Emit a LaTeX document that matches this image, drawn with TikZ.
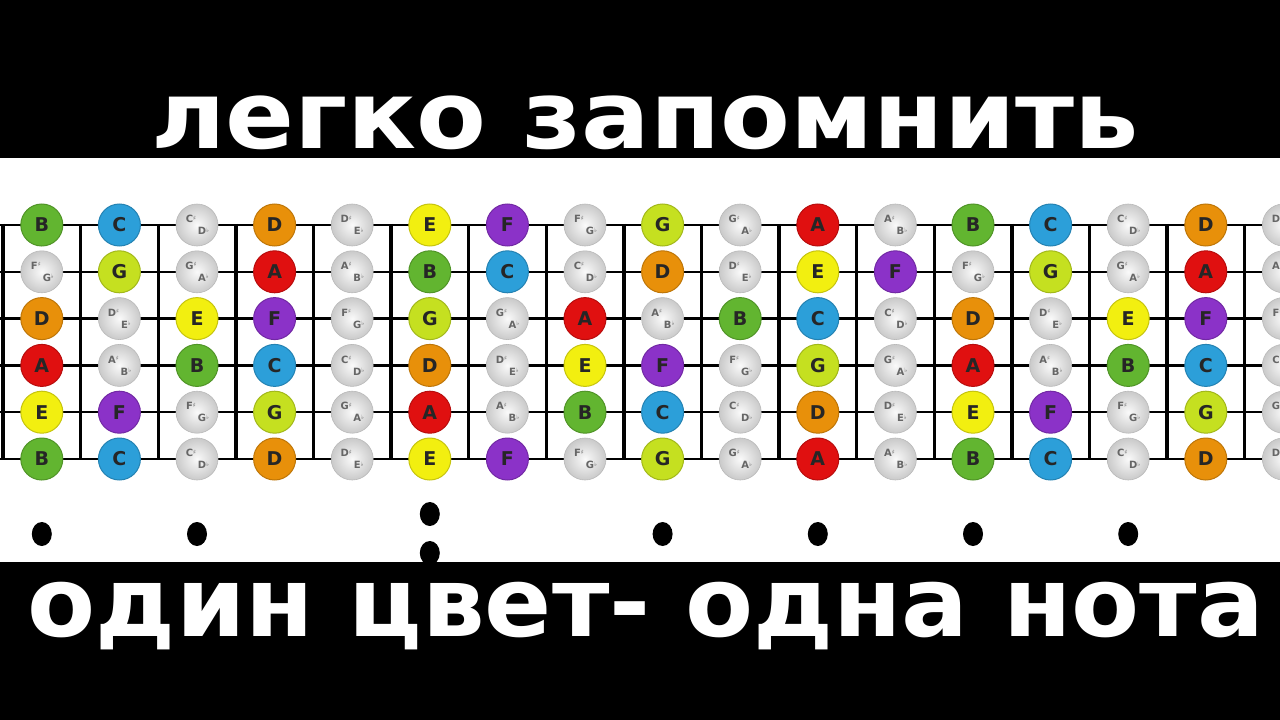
\documentclass[tikz,border=0pt]{standalone}
\usepackage{fontspec}
\newfontfamily\dejavu{DejaVu Sans}
\usetikzlibrary{shapes.geometric}
\definecolor{nB}{HTML}{62B530}
\definecolor{nC}{HTML}{2C9FD9}
\definecolor{nD}{HTML}{E8900A}
\definecolor{nE}{HTML}{F2EF10}
\definecolor{nF}{HTML}{8B32C8}
\definecolor{nG}{HTML}{C5E020}
\definecolor{nA}{HTML}{E01010}
\newcommand\natnote[5]{\node[notebox=#5] (#1) at (#2,#3) {#4};}
\newcommand\shpnote[5]{%
  \node[sharpbox] (#1) at (#2,#3) {};
  \node[sharptext] (#1-s) at ([xshift=-6pt,yshift=6pt]#1.center) {#4\raisebox{2.5pt}{\fontsize{6}{6}\selectfont ♯}};
  \node[sharptext] (#1-f) at ([xshift=6.5pt,yshift=-6pt]#1.center) {#5\raisebox{2.5pt}{\fontsize{6}{6}\selectfont ♭}};}
\newcommand\placenote[4]{%
  \ifcase#1
    \natnote{#2}{#3}{#4}{C}{nC}\or
    \shpnote{#2}{#3}{#4}{C}{D}\or
    \natnote{#2}{#3}{#4}{D}{nD}\or
    \shpnote{#2}{#3}{#4}{D}{E}\or
    \natnote{#2}{#3}{#4}{E}{nE}\or
    \natnote{#2}{#3}{#4}{F}{nF}\or
    \shpnote{#2}{#3}{#4}{F}{G}\or
    \natnote{#2}{#3}{#4}{G}{nG}\or
    \shpnote{#2}{#3}{#4}{G}{A}\or
    \natnote{#2}{#3}{#4}{A}{nA}\or
    \shpnote{#2}{#3}{#4}{A}{B}\or
    \natnote{#2}{#3}{#4}{B}{nB}\fi}
\begin{document}
\begin{tikzpicture}[x=1pt,y=-1pt,
  notebox/.style={circle, minimum size=42pt, inner sep=0pt, fill=#1, draw=#1!82!black, line width=1pt,
    text=black!85, font=\dejavu\bfseries\fontsize{19}{19}\selectfont},
  sharpbox/.style={circle, minimum size=42pt, inner sep=0pt, inner color=white!96!gray, outer color=gray!42,
    draw=gray!55, line width=0.6pt},
  sharptext/.style={inner sep=0pt, text=black!60, font=\dejavu\bfseries\fontsize{10}{10}\selectfont},
  stringline/.style={black, line width=2.4pt},
  fretline/.style={black, line width=3.4pt},
  fretdot/.style={ellipse, fill=black, minimum width=20pt, minimum height=24pt, inner sep=0pt},
  title/.style={text=white, inner sep=0pt, anchor=base, font=\dejavu\bfseries\fontsize{94}{94}\selectfont}]
\useasboundingbox (0,0) rectangle (1280,720);
\fill[black] (0,0) rectangle (1280,720);
\fill[white] (0,158) rectangle (1280,562);
\begin{scope}
\clip (0,158) rectangle (1280,562);
% strings
\foreach \j in {0,...,5} {
  \pgfmathsetmacro\yy{225+46.8*\j}
  \draw[stringline] (0,\yy) -- (1280,\yy);
}
% frets
\foreach \k in {0,...,16} {
  \pgfmathsetmacro\xx{3+77.6*\k}
  \draw[fretline] (\xx,223.8) -- (\xx,460.2);
}
% notes
\foreach \s [count=\j from 0] in {11,6,2,9,4,11} {
  \foreach \k in {0,...,16} {
    \pgfmathsetmacro\yy{225+46.8*\j}
    \pgfmathsetmacro\xx{3+77.6*(\k+0.5)}
    \pgfmathtruncatemacro\n{mod(\s+\k,12)}
    \placenote{\n}{n-\j-\k}{\xx}{\yy}
  }
}
% position dots
\node[fretdot] (dot0) at (41.8,534) {};
\node[fretdot] (dot2) at (197,534) {};
\node[fretdot] (dot5a) at (429.8,514) {};
\node[fretdot] (dot5b) at (429.8,553) {};
\node[fretdot] (dot8) at (662.6,534) {};
\node[fretdot] (dot10) at (817.8,534) {};
\node[fretdot] (dot12) at (973,534) {};
\node[fretdot] (dot14) at (1128.2,534) {};
\end{scope}
\node[title] (top) at (645,148) {\scalebox{1.083}[1]{легко запомнить}};
\node[title, font=\dejavu\bfseries\fontsize{97}{97}\selectfont] (bottom) at (646,636) {\scalebox{1.022}[1]{один цвет- одна нота}};
\end{tikzpicture}
\end{document}
